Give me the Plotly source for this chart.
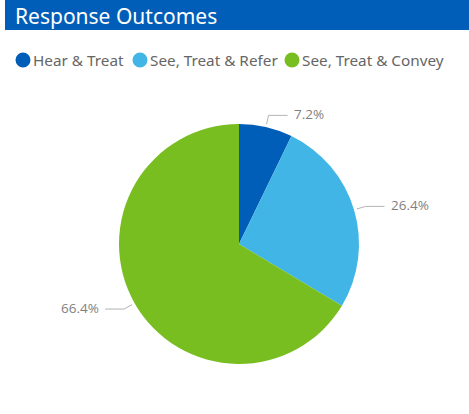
import math
import plotly.graph_objects as go

# Response outcome shares (percent)
categories = ["Hear & Treat", "See, Treat & Refer", "See, Treat & Convey"]
shares = [7.2, 26.4, 66.4]
colors = ["#005EB8", "#41B6E6", "#78BE20"]
title_text = "Response Outcomes"

W, H = 469, 414
CX, CY, R = 239, 244, 120          # pie centre and radius in pixels
LEGEND_Y = 60
LEGEND_X = [23, 140, 292]          # circle centres of the legend entries

def px(x):
    return x / W

def py(y):
    return 1 - y / H

fig = go.Figure(
    go.Pie(
        labels=categories,
        values=shares,
        sort=False,
        direction="clockwise",
        rotation=0,
        marker=dict(colors=colors, line=dict(width=0)),
        textinfo="none",
        hoverinfo="label+percent",
        showlegend=False,
        domain=dict(x=[px(CX - R), px(CX + R)], y=[py(CY + R), py(CY - R)]),
    )
)

shapes = []
annotations = []

# header bar
shapes.append(dict(type="rect", xref="paper", yref="paper",
                   x0=px(5), x1=1, y0=py(30), y1=1,
                   fillcolor="#005EB8", line=dict(width=0), layer="below"))
annotations.append(dict(text=title_text, xref="paper", yref="paper",
                        x=px(13), y=py(16), xanchor="left", yanchor="middle",
                        showarrow=False,
                        font=dict(family="Noto Sans", size=21, color="white")))

# legend: coloured dot followed by the category name
for name, col, lx in zip(categories, colors, LEGEND_X):
    shapes.append(dict(type="circle", xref="paper", yref="paper",
                       x0=px(lx - 7.5), x1=px(lx + 7.5),
                       y0=py(LEGEND_Y + 7.5), y1=py(LEGEND_Y - 7.5),
                       fillcolor=col, line=dict(width=0)))
    annotations.append(dict(text=name, xref="paper", yref="paper",
                            x=px(lx + 8), y=py(LEGEND_Y), xanchor="left",
                            yanchor="middle", showarrow=False,
                            font=dict(family="Noto Sans", size=15.3, color="#666666")))

# outside percentage labels with elbow leader lines
total = sum(shares)
cum = 0.0
for v in shares:
    a = (cum + v / 2) / total * 2 * math.pi
    cum += v
    s, c = math.sin(a), math.cos(a)
    side = 1 if s >= 0 else -1
    x0, y0 = CX + (R + 3) * s, CY - (R + 3) * c
    x1, y1 = CX + (R + 12) * s, CY - (R + 12) * c
    x2 = x1 + side * 19
    shapes.append(dict(type="path", xref="paper", yref="paper",
                       path=f"M {px(x0)} {py(y0)} L {px(x1)} {py(y1)} L {px(x2)} {py(y1)}",
                       line=dict(color="#B3B3B3", width=1)))
    annotations.append(dict(text=f"{v:.1f}%", xref="paper", yref="paper",
                            x=px(x2 + side * 4), y=py(y1 - 1),
                            xanchor="left" if side > 0 else "right",
                            yanchor="middle", showarrow=False,
                            font=dict(family="Open Sans", size=13.5, color="#7F7F7F")))

fig.update_layout(
    width=W, height=H, autosize=False,
    margin=dict(l=0, r=0, t=0, b=0),
    paper_bgcolor="white", plot_bgcolor="white",
    shapes=shapes, annotations=annotations,
)

fig.write_html("out.html")
